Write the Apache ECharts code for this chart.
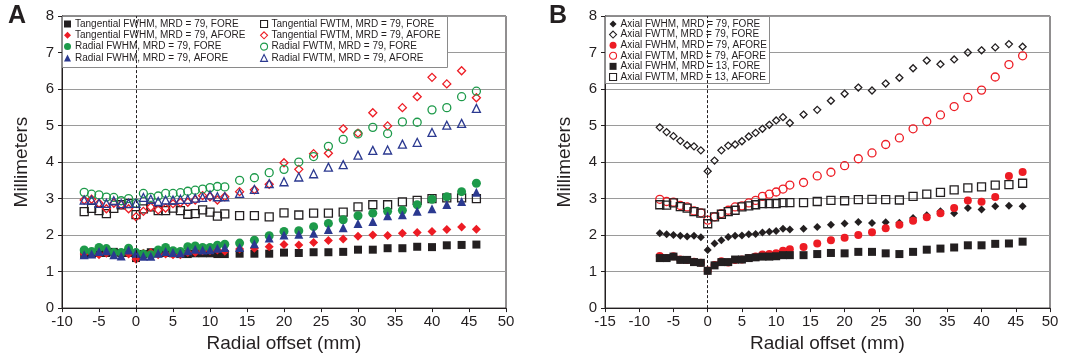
<!DOCTYPE html>
<html><head><meta charset="utf-8">
<script src="https://cdn.jsdelivr.net/npm/echarts@6/dist/echarts.min.js"></script>
<style>html,body{margin:0;padding:0;background:#fff}#c{width:1073px;height:358px}</style>
</head><body><div id="c"></div>
<script>
const xOffsets = [-7,-6,-5,-4,-3,-2,-1,0,1,2,3,4,5,6,7,8,9,10,11,12,14,16,18,20,22,24,26,28,30,32,34,36,38,40,42,44,46];

// Panel A
const tangFwhmFore = [1.46,1.48,1.51,1.51,1.54,1.51,1.51,1.37,1.48,1.53,1.50,1.51,1.50,1.48,1.48,1.50,1.50,1.50,1.48,1.48,1.49,1.49,1.49,1.52,1.51,1.53,1.53,1.54,1.60,1.60,1.64,1.64,1.68,1.67,1.72,1.73,1.74];
const tangFwhmAfore = [1.48,1.52,1.46,1.50,1.48,1.48,1.48,1.34,1.50,1.52,1.46,1.48,1.46,1.46,1.52,1.52,1.57,1.57,1.59,1.56,1.62,1.64,1.68,1.74,1.73,1.80,1.85,1.89,1.97,2.00,1.99,2.05,2.07,2.10,2.15,2.22,2.16];
const radFwhmFore = [1.59,1.55,1.66,1.63,1.52,1.52,1.64,1.52,1.48,1.46,1.59,1.66,1.57,1.55,1.68,1.70,1.66,1.66,1.72,1.75,1.78,1.86,1.98,2.10,2.12,2.23,2.32,2.42,2.53,2.60,2.65,2.68,2.83,2.98,3.05,3.19,3.42];
const radFwhmAfore = [1.46,1.48,1.55,1.57,1.46,1.43,1.59,1.50,1.42,1.42,1.50,1.55,1.52,1.51,1.57,1.61,1.59,1.60,1.64,1.66,1.66,1.76,1.92,2.00,2.02,2.05,2.15,2.20,2.32,2.37,2.53,2.56,2.65,2.72,2.84,2.92,3.17];
const tangFwtmFore = [2.64,2.73,2.67,2.59,2.73,2.83,2.86,2.56,2.72,2.77,2.67,2.67,2.74,2.67,2.57,2.59,2.69,2.63,2.52,2.58,2.53,2.53,2.50,2.61,2.55,2.60,2.60,2.63,2.77,2.83,2.83,2.91,2.95,3.00,3.02,3.02,3.00];
const tangFwtmAfore = [2.96,2.98,2.87,2.72,2.87,2.83,2.72,2.50,2.65,2.77,2.69,2.74,2.86,2.89,2.90,2.96,3.08,3.05,2.96,3.05,3.19,3.24,3.39,3.98,3.80,4.23,4.24,4.91,4.79,5.35,4.99,5.49,5.79,6.32,6.14,6.50,5.76];
const radFwtmFore = [3.17,3.12,3.10,3.04,3.03,2.94,3.00,2.87,3.14,3.03,3.07,3.14,3.14,3.16,3.20,3.23,3.26,3.30,3.33,3.32,3.50,3.57,3.71,3.80,4.00,4.15,4.43,4.62,4.77,4.95,4.78,5.10,5.09,5.43,5.49,5.79,5.94];
const radFwtmAfore = [2.96,2.96,2.87,2.87,2.94,2.86,2.87,2.87,3.03,2.98,2.92,2.96,2.96,2.98,2.98,3.01,3.03,3.10,3.05,3.05,3.14,3.25,3.41,3.46,3.59,3.68,3.86,3.93,4.19,4.32,4.33,4.49,4.54,4.81,5.01,5.06,5.47];

// Panel B
const axFwhm79Fore = [2.05,2.02,2.00,1.98,1.96,1.98,1.94,1.59,1.77,1.86,1.95,1.98,1.99,2.02,2.03,2.07,2.09,2.11,2.17,2.15,2.17,2.22,2.28,2.32,2.36,2.33,2.35,2.34,2.47,2.54,2.65,2.60,2.74,2.70,2.79,2.80,2.79];
const axFwtm79Fore = [4.95,4.82,4.71,4.58,4.46,4.43,4.32,3.75,4.04,4.32,4.45,4.48,4.57,4.70,4.80,4.91,5.02,5.14,5.23,5.07,5.30,5.43,5.68,5.87,6.04,5.96,6.15,6.31,6.57,6.78,6.68,6.81,7.00,7.06,7.14,7.23,7.16];
const axFwhm79Afore = [1.43,1.37,1.42,1.33,1.32,1.27,1.24,1.03,1.18,1.28,1.25,1.32,1.33,1.37,1.41,1.47,1.48,1.50,1.57,1.61,1.67,1.77,1.86,1.93,2.00,2.08,2.19,2.28,2.39,2.49,2.60,2.74,2.95,2.91,3.04,3.62,3.73];
const axFwtm79Afore = [2.98,2.92,2.90,2.81,2.77,2.66,2.61,2.41,2.50,2.59,2.68,2.77,2.80,2.88,2.95,3.06,3.12,3.18,3.26,3.37,3.44,3.62,3.72,3.90,4.09,4.25,4.48,4.66,4.91,5.11,5.29,5.52,5.77,5.97,6.33,6.67,6.91];
const axFwhm13Fore = [1.37,1.37,1.41,1.32,1.32,1.26,1.24,1.02,1.17,1.26,1.26,1.33,1.33,1.37,1.39,1.41,1.41,1.42,1.45,1.45,1.45,1.48,1.51,1.50,1.54,1.54,1.50,1.48,1.54,1.60,1.63,1.66,1.72,1.72,1.76,1.77,1.82];
const axFwtm13Afore = [2.83,2.82,2.88,2.78,2.74,2.64,2.60,2.31,2.50,2.57,2.64,2.68,2.77,2.80,2.83,2.86,2.86,2.86,2.89,2.89,2.89,2.92,2.95,2.94,2.97,2.98,2.97,2.96,3.06,3.12,3.17,3.24,3.29,3.32,3.37,3.38,3.42];

const BLACK = '#231f20', RED = '#ed1c24', GREEN = '#1d9a4a', BLUE = '#2b3990';
const FONT = 'Liberation Sans, Arial, sans-serif';

function pts(vals){ return xOffsets.map((x,i)=>[x, vals[i]]); }
function mk(name, vals, g, symbol, color, filled, size){
  return {
    name, type:'scatter', xAxisIndex:g, yAxisIndex:g, data:pts(vals),
    symbol, symbolSize:size, animation:false,
    itemStyle: filled ? {color, borderWidth:0, opacity:1} : {color:'rgba(255,255,255,0)', borderColor:color, borderWidth:1.3, opacity:1},
    emphasis:{disabled:true}
  };
}

const series = [
  mk('Tangential FWTM, MRD = 79, FORE', tangFwtmFore, 0, 'rect', BLACK, false, 8),
  mk('Tangential FWTM, MRD = 79, AFORE', tangFwtmAfore, 0, 'diamond', RED, false, 8),
  mk('Radial FWTM, MRD = 79, FORE', radFwtmFore, 0, 'circle', GREEN, false, 8),
  mk('Radial FWTM, MRD = 79, AFORE', radFwtmAfore, 0, 'triangle', BLUE, false, 8),
  mk('Tangential FWHM, MRD = 79, FORE', tangFwhmFore, 0, 'rect', BLACK, true, 8),
  mk('Tangential FWHM, MRD = 79, AFORE', tangFwhmAfore, 0, 'diamond', RED, true, 9),
  mk('Radial FWHM, MRD = 79, FORE', radFwhmFore, 0, 'circle', GREEN, true, 9),
  mk('Radial FWHM, MRD = 79, AFORE', radFwhmAfore, 0, 'triangle', BLUE, true, 9),
  mk('Axial FWHM, MRD = 79, FORE', axFwhm79Fore, 1, 'diamond', BLACK, true, 8),
  mk('Axial FWTM, MRD = 79, FORE', axFwtm79Fore, 1, 'diamond', BLACK, false, 7),
  mk('Axial FWHM, MRD = 79, AFORE', axFwhm79Afore, 1, 'circle', RED, true, 8),
  mk('Axial FWTM, MRD = 79, AFORE', axFwtm79Afore, 1, 'circle', RED, false, 8),
  mk('Axial FWHM, MRD = 13, FORE', axFwhm13Fore, 1, 'rect', BLACK, true, 8),
  mk('Axial FWTM, MRD = 13, AFORE', axFwtm13Afore, 1, 'rect', BLACK, false, 8)
];
[0, 8].forEach(i => {
  series[i].markLine = {silent:true, symbol:'none', animation:false, label:{show:false},
    lineStyle:{color:BLACK, type:[3,2], width:1}, data:[{xAxis:0}]};
});

function xAx(g, min){
  return {gridIndex:g, type:'value', min, max:50, interval:5,
    axisLine:{show:true, onZero:false, lineStyle:{color:BLACK, width:1}},
    axisTick:{show:true, length:4, lineStyle:{color:BLACK}},
    axisLabel:{fontSize:15, color:BLACK, fontFamily:FONT, margin:6},
    splitLine:{show:false},
    name:'Radial offset (mm)', nameLocation:'middle', nameGap:25,
    nameTextStyle:{fontSize:19, color:BLACK, fontFamily:FONT}};
}
function yAx(g){
  return {gridIndex:g, type:'value', min:0, max:8, interval:1,
    axisLine:{show:true, onZero:false, lineStyle:{color:BLACK, width:1}},
    axisTick:{show:true, length:4, lineStyle:{color:BLACK}},
    axisLabel:{fontSize:15, color:BLACK, fontFamily:FONT, margin:8},
    splitLine:{show:true, lineStyle:{color:'#9a9a9a', width:1}},
    name:'Millimeters', nameLocation:'middle', nameGap:31, nameRotate:90,
    nameTextStyle:{fontSize:19, color:BLACK, fontFamily:FONT}};
}

const legendCommon = {orient:'vertical', itemWidth:7, itemHeight:7, itemGap:0.3, padding:0,
  itemStyle:{borderWidth:1.1},
  textStyle:{fontSize:10, color:BLACK, fontFamily:FONT, lineHeight:11, padding:[0,0,0,-1]}, selectedMode:false, z:10};

const option = {
  backgroundColor:'#fff',
  animation:false,
  textStyle:{fontFamily:FONT},
  grid:[
    {left:62, right:567, top:16, bottom:46, show:true, borderColor:BLACK, borderWidth:1, backgroundColor:'transparent'},
    {left:605, right:23, top:16, bottom:46, show:true, borderColor:BLACK, borderWidth:1, backgroundColor:'transparent'}
  ],
  xAxis:[xAx(0,-10), xAx(1,-15)],
  yAxis:[yAx(0), yAx(1)],
  legend:[
    Object.assign({}, legendCommon, {left:64, top:18.5, data:['Tangential FWHM, MRD = 79, FORE','Tangential FWHM, MRD = 79, AFORE','Radial FWHM, MRD = 79, FORE','Radial FWHM, MRD = 79, AFORE']}),
    Object.assign({}, legendCommon, {left:260, top:18.5, data:['Tangential FWTM, MRD = 79, FORE','Tangential FWTM, MRD = 79, AFORE','Radial FWTM, MRD = 79, FORE','Radial FWTM, MRD = 79, AFORE']}),
    Object.assign({}, legendCommon, {left:609, top:18.7, itemGap:0.1, textStyle:Object.assign({}, legendCommon.textStyle, {lineHeight:10.5}),
      data:['Axial FWHM, MRD = 79, FORE','Axial FWTM, MRD = 79, FORE','Axial FWHM, MRD = 79, AFORE','Axial FWTM, MRD = 79, AFORE','Axial FWHM, MRD = 13, FORE','Axial FWTM, MRD = 13, AFORE']})
  ],
  graphic:[
    {type:'rect', left:62, top:16, shape:{width:385, height:51}, style:{fill:'#fff', stroke:'#8a8a8a', lineWidth:1}, z:5},
    {type:'rect', left:605, top:16, shape:{width:164, height:67}, style:{fill:'#fff', stroke:'#8a8a8a', lineWidth:1}, z:5},
    {type:'text', left:8, top:4, style:{text:'A', font:'bold 25px Liberation Sans, Arial, sans-serif', fill:BLACK}, z:10},
    {type:'text', left:549, top:4, style:{text:'B', font:'bold 25px Liberation Sans, Arial, sans-serif', fill:BLACK}, z:10}
  ],
  series
};
const chart = echarts.init(document.getElementById('c'));
chart.setOption(option);
</script></body></html>
